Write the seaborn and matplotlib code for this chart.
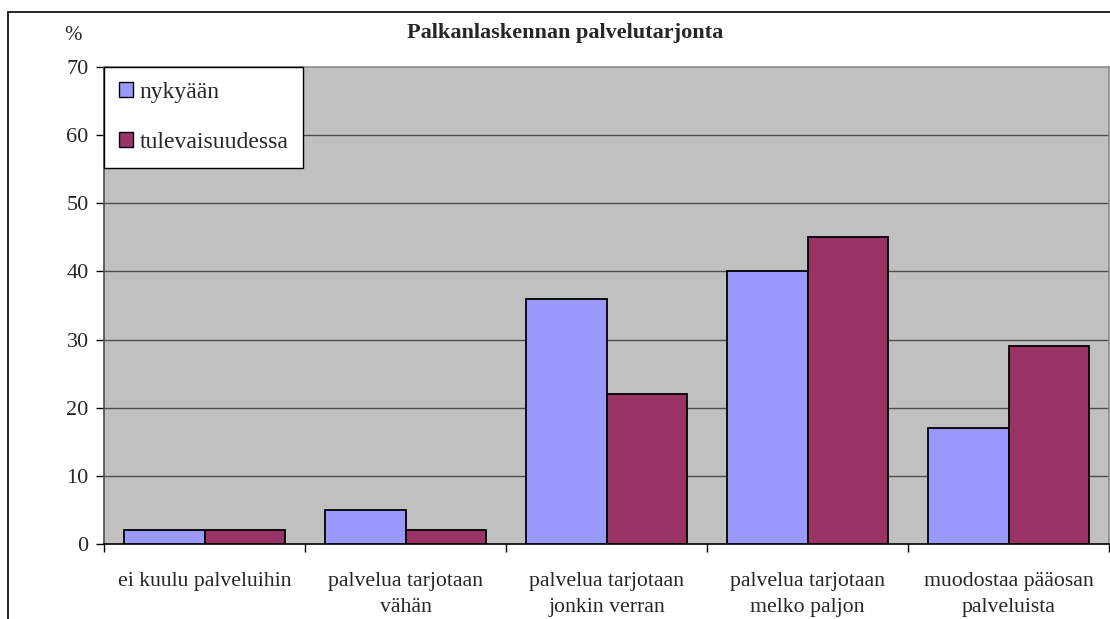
import matplotlib
matplotlib.use("Agg")
import matplotlib.pyplot as plt
from matplotlib.lines import Line2D
from matplotlib.ticker import FixedLocator
import pandas as pd
import seaborn as sns

# Survey: how much payroll services are offered, now vs. in the future (%)
categories = [
    "ei kuulu palveluihin",
    "palvelua tarjotaan\nvähän",
    "palvelua tarjotaan\njonkin verran",
    "palvelua tarjotaan\nmelko paljon",
    "muodostaa pääosan\npalveluista",
]
series_names = ["nykyään", "tulevaisuudessa"]
nykyaan = [2, 5, 36, 40, 17]
tulevaisuudessa = [2, 2, 22, 45, 29]
y_ticks = [0, 10, 20, 30, 40, 50, 60, 70]

df = pd.DataFrame({
    "kategoria": categories * 2,
    "sarja": [series_names[0]] * len(categories) + [series_names[1]] * len(categories),
    "arvo": nykyaan + tulevaisuudessa,
})

sns.set_theme(style="white")
plt.rcParams["font.family"] = ["Liberation Serif", "DejaVu Serif"]

W, H = 1110, 619
fig = plt.figure(figsize=(W / 100, H / 100), dpi=100)
ax = fig.add_axes([104 / W, (H - 544) / H, (1109 - 104) / W, (544 - 67) / H])
ax.set_facecolor("#C0C0C0")

sns.barplot(
    data=df, x="kategoria", y="arvo", hue="sarja", order=categories,
    hue_order=series_names, palette=["#9999FF", "#993366"],
    width=0.8, edgecolor="black", linewidth=1.3, saturation=1,
    errorbar=None, ax=ax, zorder=3,
)

ax.set_ylim(0, 70)
ax.set_xlim(-0.5, len(categories) - 0.5)
ax.set_yticks(y_ticks)
ax.set_yticklabels([str(v) for v in y_ticks], fontsize=16)
ax.set_xlabel("")
ax.set_ylabel("")

# horizontal gridlines
for v in y_ticks[1:-1]:
    ax.axhline(v, color="#4D4D4D", linewidth=1.0, zorder=1)

# category labels at centres, tick marks at category boundaries
ax.set_xticks(range(len(categories)))
ax.set_xticklabels(categories, fontsize=15.7, linespacing=1.5)
ax.xaxis.set_minor_locator(FixedLocator([i - 0.5 for i in range(len(categories) + 1)]))
ax.tick_params(axis="x", which="major", length=0, pad=20)
ax.tick_params(axis="x", which="minor", length=6, width=1, color="black", direction="out", bottom=True)
ax.tick_params(axis="y", which="major", length=6, width=1, color="black", direction="out", left=True, pad=5)

for side in ["top", "right"]:
    ax.spines[side].set_color("#8C8C8C")
    ax.spines[side].set_linewidth(1.2)
ax.spines["left"].set_color("#4D4D4D")
ax.spines["left"].set_linewidth(1.2)
ax.spines["bottom"].set_color("black")
ax.spines["bottom"].set_linewidth(1.2)

leg = ax.legend(
    loc="upper left", bbox_to_anchor=(0, 1), borderaxespad=0, fontsize=17,
    frameon=True, fancybox=False, edgecolor="black", framealpha=1,
    handlelength=0.6, handleheight=0.6, handletextpad=0.3,
    labelspacing=1.25, borderpad=0.62,
)
leg.get_frame().set_linewidth(1.0)
leg.set_zorder(5)
for h in leg.legend_handles:
    h.set_edgecolor("black")
    h.set_linewidth(1.0)

fig.text(565 / W, 1 - 33 / H, "Palkanlaskennan palvelutarjonta",
         ha="center", va="center", fontsize=16, fontweight="bold")
fig.text(73 / W, 1 - 36 / H, "%", ha="center", va="center", fontsize=15)

# outer chart frame
fig.add_artist(Line2D([8 / W, 8 / W], [0, 1 - 12 / H], transform=fig.transFigure,
                      color="black", linewidth=1.2))
fig.add_artist(Line2D([8 / W, 1], [1 - 12 / H, 1 - 12 / H], transform=fig.transFigure,
                      color="black", linewidth=1.2))

fig.savefig("out.png", dpi=100)
